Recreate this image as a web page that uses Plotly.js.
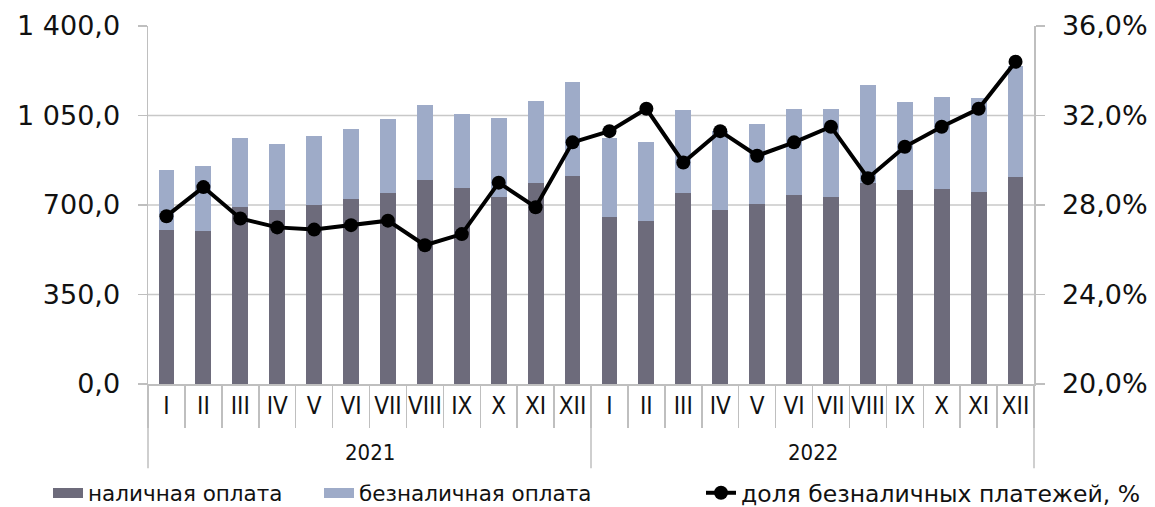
<!DOCTYPE html>
<html>
<head>
<meta charset="utf-8">
<script src="https://cdn.plot.ly/plotly-3.0.1.min.js"></script>
<style>html,body{margin:0;padding:0;background:#fff;}#chart{width:1155px;height:507px;}</style>
</head>
<body>
<div id="chart"></div>
<script>
const months = ['I','II','III','IV','V','VI','VII','VIII','IX','X','XI','XII'];
const yearLabels = ['2021','2022'];
const cash = [601,599,692,679,700,722,745,799,768,732,787,812,
              654,637,747,680,702,739,732,785,758,762,750,811];
const cashless = [236,253,270,260,268,277,291,293,287,309,318,369,
                  307,311,325,310,313,337,345,385,343,360,367,431];
const share = [27.5,28.8,27.4,27.0,26.9,27.1,27.3,26.2,26.7,29.0,27.9,30.8,
               31.3,32.3,29.9,31.3,30.2,30.8,31.5,29.2,30.6,31.5,32.3,34.4];
const seriesNames = ['наличная оплата','безналичная оплата','доля безналичных платежей, %'];
const leftTickVals = [0,350,700,1050,1400];
const rightTickVals = [20,24,28,32,36];
const rightTickText = ['20,0%','24,0%','28,0%','32,0%','36,0%'];

const colCash = '#6d6b7b', colCashless = '#9eabc8';

// unique category ids (year + month), month shown as tick text
const xIds = [], xText = [];
yearLabels.forEach(y => months.forEach(m => { xIds.push(y + '-' + m); xText.push(m); }));

const traces = [
  {type:'bar', name:seriesNames[0], x:xIds, y:cash, marker:{color:colCash}, yaxis:'y', showlegend:false},
  {type:'bar', name:seriesNames[1], x:xIds, y:cashless, marker:{color:colCashless}, yaxis:'y', showlegend:false},
  // legend swatches (no data points)
  {type:'scatter', mode:'lines', name:seriesNames[0], x:[null], y:[null], yaxis:'y',
   line:{color:colCash, width:14}, legend:'legend'},
  {type:'scatter', mode:'lines', name:seriesNames[1], x:[null], y:[null], yaxis:'y',
   line:{color:colCashless, width:14}, legend:'legend2'},
  {type:'scatter', mode:'lines+markers', name:seriesNames[2], x:xIds, y:share, yaxis:'y2',
   line:{color:'#000', width:4}, marker:{color:'#000', size:14}, legend:'legend3'}
];

const axisGray = '#bfbfbf';
const gridVals = [350,700,1050];
const shapes = gridVals.map(v => ({type:'line', xref:'paper', x0:0, x1:1, yref:'y', y0:v, y1:v,
  line:{color:'#c8c8c8', width:1.5}, layer:'below'}));
// year group dividers
const nYears = yearLabels.length;
for (let i = 0; i <= nYears; i++) {
  shapes.push({type:'line', xref:'paper', x0:i/nYears, x1:i/nYears, yref:'paper', y0:0, y1:-0.235,
    line:{color:axisGray, width:1.5}});
}
const annotations = yearLabels.map((y, i) => ({text:y, xref:'paper', x:(i+0.5)/nYears, yref:'paper',
  y:-0.19, xanchor:'center', yanchor:'middle', showarrow:false,
  font:{size:22, family:'Liberation Sans Narrow, DejaVu Sans Condensed, sans-serif', color:'#111'}}));

function leg(px, size){
  return {orientation:'h', xref:'container', yref:'container', x:px/1155, xanchor:'left',
          y:1-493/507, yanchor:'middle', bgcolor:'rgba(0,0,0,0)', borderwidth:0,
          font:{size:size, family:'DejaVu Sans, sans-serif', color:'#111'}};
}

const layout = {
  width:1155, height:507,
  margin:{l:148, r:121, t:26, b:123, autoexpand:false},
  paper_bgcolor:'#fff', plot_bgcolor:'#fff',
  barmode:'stack', bargap:0.57,
  separators:', ',
  font:{family:'DejaVu Sans, Noto Sans, sans-serif', color:'#111'},
  showlegend:true,
  legend:leg(48, 21.5), legend2:leg(319, 21.5), legend3:leg(701, 23.5),
  xaxis:{type:'category', range:[-0.5, xIds.length - 0.5], autorange:false, automargin:false,
         tickvals:xIds, ticktext:xText,
         showline:true, linecolor:axisGray, linewidth:1.5,
         ticks:'outside', tickson:'boundaries', ticklen:42, tickcolor:axisGray, tickwidth:1.5,
         tickangle:0, ticklabelstandoff:0,
         tickfont:{size:24, family:'Liberation Sans Narrow, DejaVu Sans Condensed, sans-serif', color:'#111'},
         showgrid:false},
  yaxis:{range:[0,1400], tickvals:leftTickVals, tickformat:',.1f', showgrid:false, automargin:false,
         zeroline:false, showline:true, linecolor:axisGray, linewidth:1.5,
         ticks:'outside', ticklen:9, tickcolor:axisGray, tickwidth:1.5, ticklabelstandoff:12,
         tickfont:{size:27, color:'#111'}},
  yaxis2:{range:[20,36], tickvals:rightTickVals, ticktext:rightTickText, automargin:false,
          overlaying:'y', side:'right', showgrid:false, zeroline:false, showline:true,
          linecolor:axisGray, linewidth:1.5, ticks:'outside', ticklen:9, tickcolor:axisGray, tickwidth:1.5,
          ticklabelstandoff:12, tickfont:{size:27, color:'#111'}},
  shapes:shapes, annotations:annotations
};

Plotly.newPlot('chart', traces, layout, {displayModeBar:false, staticPlot:true});
</script>
</body>
</html>
